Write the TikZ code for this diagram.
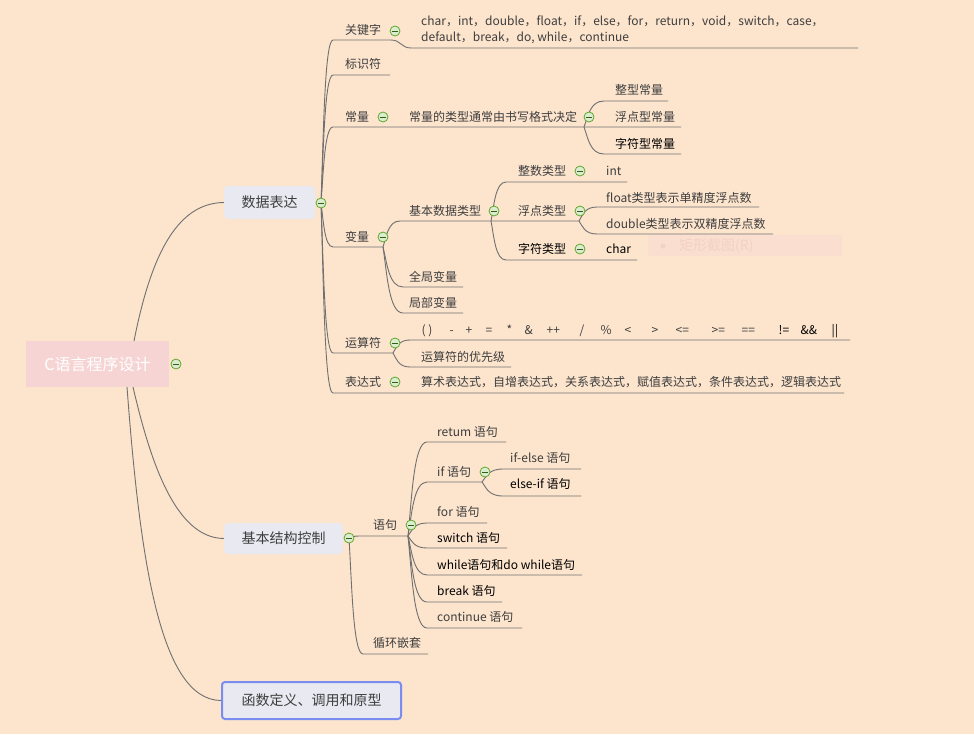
\documentclass[tikz,border=0pt]{standalone}
\usepackage{fontspec}
\setmainfont{Noto Sans CJK SC}
\definecolor{bg}{RGB}{252,228,205}
\definecolor{rootpink}{RGB}{247,212,212}
\definecolor{topicfill}{RGB}{233,233,242}
\definecolor{linegray}{RGB}{112,112,112}
\definecolor{txt}{RGB}{62,62,62}
\definecolor{icongreen}{RGB}{96,168,44}
\definecolor{bluebord}{RGB}{122,140,240}
\definecolor{ghostfill}{RGB}{250,222,208}
\definecolor{ghosttxt}{RGB}{242,210,196}
\tikzset{
  conn/.style={draw=linegray, line width=0.9pt},
  lbl/.style={anchor=west, inner sep=0pt, text=txt, font=\fontsize{12}{14}\selectfont, text height=10.5pt, text depth=1.5pt},
  lblk/.style={lbl, text=black},
  multilbl/.style={anchor=west, inner sep=0pt, text=txt, align=left, font=\fontsize{12}{16}\selectfont},
  topic/.style={fill=topicfill, rounded corners=4pt, text=txt, font=\fontsize{14}{16}\selectfont, inner sep=0pt},
  rootbox/.style={fill=rootpink, text=white, font=\fontsize{16}{18}\selectfont, inner sep=0pt, minimum width=143pt, minimum height=46pt},
  togicon/.style={circle, draw=icongreen, line width=0.8pt, fill=white!78!icongreen, minimum size=10pt, inner sep=0pt,
    path picture={\draw[icongreen!55!black, line width=1pt] ([xshift=-3pt]path picture bounding box.center) -- ([xshift=3pt]path picture bounding box.center);}},
}
\newcommand\br[5]{\draw[conn] (#1,#2) .. controls ({#1+0.2*(#3-#1)},{#2+0.4*(#4-#2)}) and ({#1+0.3*(#3-#1)},#4) .. (#3,#4) -- (#5,#4);}
\newcommand\opat[2]{\makebox[0pt][l]{\hspace*{#1pt}#2}}
\begin{document}
\begin{tikzpicture}[x=1pt,y=-1pt]
\useasboundingbox (0,0) rectangle (974,734);
\fill[bg] (0,0) rectangle (974,734);

% ghost context menu remnant
\fill[ghostfill] (648,235) rectangle (842,256);
\fill[ghosttxt] (663,246) circle (2.5);
\node[lbl, text=ghosttxt, font=\fontsize{14}{16}\selectfont] (ghost) at (679,246) {矩形截图(R)};

% root and main topics
\node[rootbox] (root) at (97.5,364) {C语言程序设计};
\node[topic, minimum width=91pt, minimum height=33pt] (t1) at (269.5,202.5) {数据表达};
\node[topic, minimum width=119pt, minimum height=31pt] (t2) at (283.5,538.5) {基本结构控制};
\node[topic, draw=bluebord, line width=2pt, rounded corners=3pt, minimum width=179pt, minimum height=37pt] (t3) at (311.5,700.5) {函数定义、调用和原型};

\draw[conn] (134,341) .. controls (150,260) and (175,203) .. (t1.west);
\draw[conn] (133,387) .. controls (150,460) and (175,538) .. (t2.west);
\draw[conn] (127,387) .. controls (140,560) and (160,700) .. (t3.west);

% ---- 数据表达 branches
\br{321}{203}{333}{40}{391}
\draw[conn] (391,40) .. controls (401,40) and (401,48) .. (411,48) -- (858,48);
\br{321}{203}{333}{75}{390}
\br{321}{203}{333}{127}{681}
\br{321}{203}{333}{247}{383}
\br{321}{203}{333}{353}{393}
\br{321}{203}{333}{393}{844}
% 常量
\br{584}{127}{604}{101}{668}
\br{584}{127}{604}{154}{681}
% 变量
\br{383}{247}{400}{221}{579}
\br{383}{247}{403}{287}{463}
\br{383}{247}{403}{313}{463}
% 基本数据类型
\br{491}{221}{506}{182}{627}
\br{491}{221}{506}{260}{637}
% 浮点类型
\br{579}{221}{597}{207}{759}
\br{579}{221}{597}{234}{773}
% 运算符
\br{393}{353}{410}{340}{850}
\br{393}{353}{410}{367}{511}

% ---- 基本结构控制 branches
\br{349}{538}{360}{536}{408}
\br{349}{538}{363}{654}{428}
\br{408}{536}{427}{442}{506}
\br{408}{536}{427}{482}{482}
\br{408}{536}{427}{523}{487}
\br{408}{536}{427}{548}{507}
\br{408}{536}{427}{575}{582}
\br{408}{536}{427}{602}{502}
\br{408}{536}{427}{628}{522}
\br{482}{482}{503}{469}{581}
\br{482}{482}{503}{496}{581}

% ---- labels
\node[lbl] (kw) at (345,30) {关键字};
\node[multilbl] (kwlist) at (421,30) {char，int，double，float，if，else，for，return，void，switch，case，\\default，break，do, while，continue};
\node[lbl] (ident) at (345,64) {标识符};
\node[lbl] (const) at (345,117) {常量};
\node[lbl] (consttype) at (409,117) {常量的类型通常由书写格式决定};
\node[lbl] (c1) at (615,90) {整型常量};
\node[lbl] (c2) at (615,117) {浮点型常量};
\node[lblk] (c3) at (615,144) {字符型常量};
\node[lbl] (var) at (345,237) {变量};
\node[lbl] (basic) at (409,211) {基本数据类型};
\node[lbl] (intt) at (518,171) {整数类型};
\node[lbl] (intv) at (606,171) {int};
\node[lbl] (flt) at (518,211) {浮点类型};
\node[lbl] (fltf) at (606,198) {float类型表示单精度浮点数};
\node[lbl] (fltd) at (606,224) {double类型表示双精度浮点数};
\node[lblk] (chr) at (518,249) {字符类型};
\node[lblk] (chrv) at (606,249) {char};
\node[lbl] (glob) at (409,277) {全局变量};
\node[lbl] (loc) at (409,303) {局部变量};
\node[lbl] (op) at (345,343) {运算符};
\node[lbl] (oplist) at (421,330) {\opat{0}{( )}\opat{28}{-}\opat{44}{+}\opat{64}{=}\opat{85}{*}\opat{103}{\&}\opat{125}{++}\opat{158}{/}\opat{179}{\%}\opat{203}{<}\opat{230}{>}\opat{254}{<=}\opat{290}{>=}\opat{320}{==}\opat{357}{\textcolor{black}{!=}}\opat{379}{\textcolor{black}{\&\&}}\opat{410}{\textcolor{black}{||}}};
\node[lbl] (prio) at (421,357) {运算符的优先级};
\node[lbl] (expr) at (345,382) {表达式};
\node[lbl] (exprlist) at (421,382) {算术表达式，自增表达式，关系表达式，赋值表达式，条件表达式，逻辑表达式};

\node[lbl] (stmt) at (373,525) {语句};
\node[lbl] (s1) at (437,432) {retum 语句};
\node[lbl] (s2) at (437,472) {if 语句};
\node[lbl] (s21) at (510,458) {if-else 语句};
\node[lblk] (s22) at (510,484) {else-if 语句};
\node[lbl] (s3) at (437,512) {for 语句};
\node[lblk] (s4) at (437,538) {switch 语句};
\node[lblk] (s5) at (437,565) {while语句和do while语句};
\node[lblk] (s6) at (437,591) {break 语句};
\node[lbl] (s7) at (437,617) {continue 语句};
\node[lbl] (loop) at (373,643) {循环嵌套};

% ---- collapse icons
\node[togicon] (i0) at (176,364) {};
\node[togicon] (i1) at (321,203) {};
\node[togicon] (i2) at (395,31) {};
\node[togicon] (i3) at (383,117) {};
\node[togicon] (i4) at (589,117) {};
\node[togicon] (i5) at (383,237) {};
\node[togicon] (i6) at (494,211) {};
\node[togicon] (i7) at (580,171) {};
\node[togicon] (i8) at (580,211) {};
\node[togicon] (i9) at (580,249) {};
\node[togicon] (i10) at (395,343) {};
\node[togicon] (i11) at (395,382) {};
\node[togicon] (i12) at (349,538) {};
\node[togicon] (i13) at (411,525) {};
\node[togicon] (i14) at (485,472) {};
\end{tikzpicture}
\end{document}
